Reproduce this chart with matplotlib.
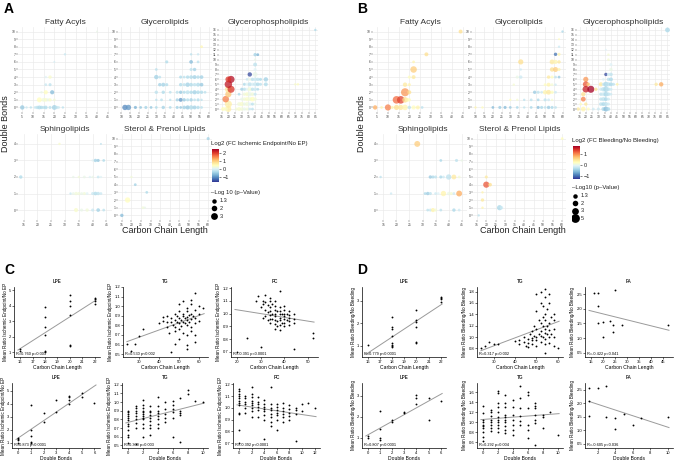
import numpy as np
import matplotlib
matplotlib.use("Agg")
import matplotlib.pyplot as plt
from matplotlib.colors import Normalize
from matplotlib.cm import ScalarMappable

plt.rcParams["font.family"] = ["Liberation Sans", "DejaVu Sans"]

W, H = 676, 463

# ------------------------------------------------------------
# Bubble data: (carbon length, double bonds, log2 FC, -log10 p)
# ------------------------------------------------------------
a_fa = [(5,0,-0.6,1.0),(7,0,-0.2,0.3),(9,0,-0.3,0.3),(11,0,-0.2,0.4),(12,0,-0.3,0.6),
        (13,0,-0.4,0.8),(14,0,-0.4,0.6),(15,0,-0.3,0.5),(16,0,-0.4,0.7),(18,0,-0.3,0.5),
        (20,0,-0.5,1.2),(21,0,-0.3,0.6),(22,0,-0.2,0.4),(24,0,-0.3,0.3),
        (13,1,0.4,1.3),(15,1,0.2,0.8),(16,1,0.3,0.7),(17,1,0.1,0.5),(18,1,0.3,0.6),(20,1,0.2,0.4),
        (16,2,0.4,0.9),(19,2,-0.7,0.9),(14,2,0.1,0.3),(16,3,-0.2,0.4),(18,3,-0.3,0.5),
        (18,4,0.3,0.6),(16,4,0.0,0.3),(20,6,-0.1,0.2),(25,7,-0.2,0.3),(40,10,0.1,0.2)]

a_gl = [(12,0,-1.1,1.5),(14,0,-1.0,1.5),(18,0,-0.8,0.5),(21,0,-0.6,0.4),(24,0,-0.5,0.5),
        (27,0,-0.6,0.4),(30,0,-0.4,0.4),(34,0,-0.5,0.6),(38,0,-0.4,0.4),(42,0,-0.5,0.5),
        (44,0,-0.6,0.4),(46,0,-0.5,0.7),(48,0,-0.6,0.9),(50,0,-0.4,1.0),(52,0,-0.5,0.8),
        (54,0,-0.4,0.6),(56,0,-0.3,0.4),
        (30,1,-0.3,0.3),(33,1,-0.3,0.4),(38,1,-0.3,0.3),(42,1,-0.5,0.5),(44,1,-1.0,0.8),
        (46,1,-0.6,0.6),(48,1,-0.4,0.5),(50,1,-0.5,0.6),(52,1,-0.3,0.4),(54,1,-0.4,0.5),(56,1,-0.3,0.3),
        (30,2,-0.3,0.6),(34,2,-0.4,0.6),(38,2,-0.3,0.4),(42,2,-0.3,0.5),(44,2,-0.6,0.6),
        (46,2,-0.4,0.5),(48,2,-0.3,0.8),(50,2,-0.4,0.6),(52,2,-0.5,0.9),(54,2,-0.4,0.7),
        (56,2,-0.4,0.6),(58,2,-0.3,0.4),
        (32,3,-0.5,0.6),(34,3,-0.5,0.8),(36,3,-0.4,0.5),(44,3,-0.4,0.6),(46,3,-0.3,0.5),
        (48,3,-0.5,1.0),(50,3,-0.4,0.7),(52,3,-0.3,0.6),(54,3,-0.4,0.8),(56,3,-0.6,0.7),
        (30,4,-0.5,1.0),(32,4,-0.3,0.4),(44,4,-0.4,0.5),(46,4,-0.3,0.4),(48,4,-0.4,0.6),
        (50,4,-0.4,0.7),(52,4,-0.5,0.8),(54,4,-0.4,0.6),(56,4,-0.5,0.7),
        (30,5,-0.3,0.4),(50,5,-0.3,0.5),(52,5,-0.5,0.6),
        (36,6,-0.4,0.5),(50,6,-0.7,0.7),(54,6,-0.3,0.4),(50,7,-0.3,0.3),(54,7,-0.2,0.3),
        (56,8,0.5,0.4)]

a_gp = [(20,0,0.6,1.8),(18,0,0.3,0.8),(16,0,0.4,0.8),(20,1,0.6,2.6),(18,2,1.5,2.2),
        (20,3,1.0,2.0),(20,4,0.7,2.4),(22,4,2.0,2.6),(20,5,2.2,2.9),(22,6,2.3,2.6),(20,6,2.0,1.8),
        (36,7,-1.5,1.0),(40,11,-0.5,0.6),(42,11,-0.8,0.4),(40,10,0.1,0.3),(40,9,-0.3,0.8),
        (40,8,0.0,0.5),(40,7,0.1,1.2),
        (34,6,-0.2,0.4),(36,6,0.1,0.5),(38,6,-0.3,0.6),(40,6,-0.2,0.8),(42,6,-0.3,0.6),
        (44,6,-0.4,0.5),(48,6,-0.5,1.0),
        (32,5,-0.4,0.5),(34,5,0.0,0.6),(36,5,-0.3,0.8),(38,5,-0.1,0.6),(40,5,-0.2,0.9),
        (42,5,-0.4,0.7),(44,5,-0.3,0.5),(48,5,-0.4,0.8),(70,5,0.3,0.3),(72,5,0.4,0.3),
        (30,4,-0.5,0.5),(32,4,-0.3,0.6),(34,4,0.0,0.5),(36,4,0.2,0.9),(38,4,-0.3,0.6),
        (40,4,-0.2,0.7),(42,4,-0.4,0.4),
        (28,3,-0.4,0.4),(32,3,0.2,0.6),(34,3,0.3,0.8),(36,3,0.1,0.9),(38,3,0.2,0.7),(40,3,-0.2,0.5),
        (30,2,0.1,0.5),(32,2,0.2,0.7),(34,2,0.3,0.9),(36,2,0.2,0.8),(38,2,0.4,1.1),(40,2,0.2,0.6),
        (28,1,0.2,0.8),(30,1,0.3,1.0),(32,1,0.1,0.6),(34,1,0.2,0.9),(36,1,0.0,0.6),
        (38,1,-0.3,0.5),(40,1,0.1,0.4),
        (26,0,0.2,0.5),(28,0,0.3,0.8),(30,0,0.2,0.7),(32,0,0.1,0.6),(34,0,0.2,0.5),
        (36,0,-0.2,0.4),(38,0,-0.3,0.4),(85,16,-0.4,0.3)]

a_sp = [(28,4,0.3,0.3),(43,4,-0.3,0.2),(40,3,0.0,0.3),(41,3,-0.5,0.6),(42,3,-0.6,0.5),
        (44,3,-0.4,0.4),(14,2,-0.4,0.6),(33,2,0.1,0.3),(35,2,0.2,0.3),(37,2,0.1,0.4),
        (39,2,0.0,0.3),(40,2,0.1,0.3),(42,2,-0.2,0.4),(43,2,0.0,0.3),
        (32,1,-0.2,0.3),(33,1,0.1,0.4),(34,1,0.2,0.6),(35,1,0.2,0.5),(36,1,0.1,0.4),
        (37,1,0.2,0.5),(38,1,0.0,0.4),(40,1,-0.2,0.5),(41,1,-0.4,0.7),(42,1,-0.3,0.6),(43,1,-0.2,0.4),
        (34,0,0.3,0.9),(36,0,0.1,0.5),(38,0,0.2,0.6),(40,0,-0.2,0.5),(42,0,-0.5,0.7),(44,0,-0.3,0.4)]

a_st = [(60,10,-0.5,0.5),(20,5,0.2,0.3),(22,4,-0.5,0.4),(28,3,-0.4,0.4),(17,3,0.0,0.2),
        (18,2,0.4,1.5),(26,1,0.2,0.4),(27,1,0.1,0.3),(15,0,-0.7,0.6)]

b_fa = [(44,10,0.5,0.8),(28,7,0.5,0.8),(22,6,0.3,0.4),(22,5,0.6,2.2),(22,4,0.4,0.8),
        (20,4,0.2,0.5),(18,3,0.4,1.0),(20,3,0.3,0.5),(18,2,0.9,3.4),(20,2,0.5,0.8),
        (14,1,1.1,3.0),(16,1,1.3,3.0),(18,1,0.5,1.6),(19,1,0.3,0.8),(20,1,0.2,0.6),
        (4,0,0.8,1.0),(10,0,1.0,2.0),(7,0,0.3,0.4),(12,0,0.3,0.5),(14,0,0.5,1.4),(16,0,0.4,1.4),
        (18,0,0.3,1.6),(20,0,-0.3,0.6),(22,0,0.2,0.9),(24,0,0.3,0.8),(26,0,-0.3,0.4)]

b_gl = [(60,10,-0.4,0.3),(58,9,0.2,0.2),(58,8,-0.2,0.3),(56,7,-1.0,0.6),(58,7,0.3,0.5),
        (36,6,0.5,1.4),(54,6,0.4,1.2),(56,6,0.3,0.9),(58,6,0.4,0.6),
        (36,5,-0.2,0.3),(54,5,0.5,1.0),(56,5,0.6,1.3),(58,5,0.3,0.5),
        (34,4,0.0,0.5),(36,4,-0.2,0.6),(52,4,0.4,0.6),(54,4,0.2,0.5),(56,4,-0.3,0.4),(58,4,-0.5,0.4),
        (32,3,0.1,0.3),(50,3,0.2,0.4),(52,3,0.3,0.8),(54,3,0.1,0.4),(56,3,-0.2,0.3),
        (44,2,-0.5,0.6),(46,2,-0.3,0.5),(48,2,-0.2,0.4),(50,2,0.3,1.0),(52,2,0.4,1.2),
        (54,2,0.2,0.6),(56,2,-0.2,0.4),
        (30,1,0.2,0.3),(34,1,0.1,0.3),(38,1,-0.3,0.3),(42,1,-0.3,0.4),(46,1,-0.4,0.4),
        (50,1,-0.3,0.5),(52,1,-0.2,0.4),(54,1,0.1,0.3),
        (10,0,0.3,0.3),(14,0,0.2,0.3),(20,0,-0.6,0.4),(24,0,-0.5,0.5),(27,0,-0.6,0.5),
        (30,0,-0.5,0.4),(34,0,-0.4,0.4),(38,0,-0.3,0.3),(42,0,-0.4,0.4),(46,0,-0.6,0.5),
        (48,0,-0.4,0.5),(50,0,-0.3,0.4),(52,0,-0.5,0.6),(54,0,-0.4,0.5),(56,0,-0.3,0.4)]

b_gp = [(85,16,-0.4,1.2),(36,12,-0.1,0.2),(38,11,0.1,0.3),(38,10,0.1,0.3),(40,9,-0.1,0.5),
        (40,8,0.0,0.6),(36,7,-1.2,0.6),(40,7,-0.3,0.7),(38,7,-0.2,0.5),
        (20,6,0.9,1.4),(34,6,-0.1,0.4),(38,6,-0.3,0.6),(40,6,-0.4,0.8),
        (20,5,1.2,1.8),(22,5,0.6,0.7),(32,5,0.4,0.9),(34,5,-0.2,0.6),(36,5,-0.4,1.4),
        (38,5,-0.3,0.9),(40,5,-0.4,0.8),(42,5,-0.3,0.5),(45,5,0.3,0.4),(76,5,0.4,0.6),(80,5,0.8,1.0),
        (20,4,1.5,2.2),(24,4,1.8,2.6),(28,4,0.5,0.6),(32,4,-0.2,0.6),(34,4,-0.3,1.0),
        (36,4,-0.4,1.5),(38,4,-0.3,0.7),(40,4,-0.2,0.5),
        (18,3,0.5,1.0),(32,3,-0.3,0.6),(34,3,-0.2,0.8),(36,3,-0.4,1.2),(38,3,-0.3,0.7),(40,3,-0.2,0.4),
        (18,2,1.0,1.2),(32,2,-0.3,0.6),(34,2,-0.3,0.9),(36,2,-0.4,0.8),(38,2,-0.2,0.5),
        (16,1,0.2,0.4),(20,1,0.4,0.6),(32,1,-0.3,0.7),(34,1,-0.4,0.8),(36,1,-0.3,0.9),(38,1,-0.2,0.5),
        (14,0,0.4,0.6),(18,0,0.3,1.2),(22,0,0.2,0.5),(26,0,-0.2,0.4),(30,0,-0.2,0.5),
        (34,0,-0.4,0.8),(36,0,-0.6,1.3),(38,0,-0.4,0.7)]

b_sp = [(28,4,0.6,1.8),(37,3,-0.4,0.4),(43,3,-0.3,0.5),(45,3,0.0,0.3),
        (14,2,-0.3,0.3),(33,2,-0.5,0.6),(34,2,-0.4,0.5),(35,2,-0.3,0.5),(37,2,-0.4,0.5),
        (38,2,-0.2,0.4),(40,2,-0.3,1.5),(42,2,0.4,1.2),(44,2,0.1,0.4),
        (18,1,-0.2,0.3),(31,1,-0.4,0.4),(32,1,-0.5,0.6),(33,1,-0.3,0.5),(35,1,-0.2,0.4),
        (36,1,-0.1,0.4),(38,1,0.3,1.5),(40,1,0.0,0.6),(41,1,0.1,0.5),(42,1,-0.2,0.4),(44,1,0.8,1.8),
        (32,0,-0.3,0.4),(33,0,-0.2,0.5),(34,0,0.3,0.9),(35,0,0.1,0.5),(37,0,-0.3,0.4),
        (42,0,-0.4,0.6),(44,0,-0.2,0.4)]

b_st = [(60,10,0.2,0.4),(20,5,0.4,0.5),(20,4,1.2,2.0),(22,4,0.5,0.7),(18,3,0.3,0.3),
        (18,2,0.4,0.6),(18,1,0.3,0.3),(27,1,-0.4,1.4),(28,1,-0.2,0.6),(16,0,-0.3,0.3)]

a_cbar_ticks = [2, 1, 0, -1]
b_cbar_ticks = [1, 0, -1]
a_size_keys = [1.3, 2, 3]
b_size_keys = [1.3, 2, 3, 5]

# ------------------------------------------------------------
# Correlation data
# ------------------------------------------------------------
c_lpe_cl_x = [16, 16, 18, 18, 18, 18, 18, 18, 20, 20, 20, 20, 20, 20, 22, 22, 22, 22]
c_lpe_cl_y = [1.1, 1.2, 1.0, 1.1, 2.1, 2.6, 3.3, 3.9, 1.4, 1.5, 3.4, 4.0, 4.3, 4.7, 4.1, 4.3, 4.4, 4.5]

c_tg_cl_x = [24, 26, 28, 30, 32, 40, 42, 42, 44, 44, 44, 45, 46, 46, 46, 47, 48, 48, 48, 48, 48,
             49, 49, 50, 50, 50, 50, 50, 50, 51, 51, 52, 52, 52, 52, 52, 53, 53, 54, 54, 54, 54,
             54, 54, 54, 54, 55, 55, 56, 56, 56, 56, 56, 56, 57, 58, 58, 58, 58, 58, 58, 60, 60, 60, 62]
c_tg_cl_y = [0.61, 0.53, 0.61, 0.69, 0.76, 0.82, 0.85, 0.89, 0.83, 0.78, 0.90, 0.72, 0.88, 0.84,
             0.52, 0.80, 0.86, 0.78, 0.74, 0.92, 0.61, 0.90, 0.83, 0.82, 0.95, 0.88, 0.76, 0.66,
             1.02, 0.86, 0.79, 0.92, 0.84, 0.90, 0.72, 1.05, 0.88, 0.82, 0.95, 0.89, 0.86, 0.80,
             0.70, 0.60, 0.55, 0.98, 0.91, 0.84, 0.87, 0.92, 1.06, 1.02, 0.78, 0.74, 0.90, 0.96,
             0.88, 0.82, 0.70, 1.14, 0.63, 0.92, 1.00, 0.85, 0.98]

c_pc_cl_x = [20, 24, 28, 29, 30, 30, 31, 31, 31, 32, 32, 32, 32, 33, 33, 33, 34, 34, 34, 34, 34, 34,
             34, 35, 35, 35, 36, 36, 36, 36, 36, 36, 36, 36, 37, 37, 37, 38, 38, 38, 38, 38, 38, 38,
             38, 39, 39, 40, 40, 40, 40, 40, 40, 40, 41, 41, 42, 42, 42, 42, 42, 44, 44, 44, 44, 52, 52]
c_pc_cl_y = [0.70, 0.81, 1.10, 1.14, 1.05, 0.74, 1.10, 1.08, 0.97, 1.15, 1.09, 1.03, 0.98, 1.07,
             1.01, 0.95, 1.12, 1.10, 1.05, 1.02, 0.99, 0.96, 0.93, 1.08, 1.00, 0.96, 1.10, 1.06,
             1.03, 1.00, 0.98, 0.95, 0.92, 0.88, 1.02, 0.94, 0.90, 1.18, 1.05, 1.02, 1.00, 0.97,
             0.95, 0.91, 0.87, 1.00, 0.93, 1.06, 1.03, 1.00, 0.98, 0.96, 0.93, 0.90, 1.00, 0.95,
             1.02, 0.99, 0.97, 0.94, 0.91, 1.00, 0.96, 0.93, 0.72, 0.85, 0.81]

c_lpe_db_x = [0, 0, 0, 0, 1, 1, 1, 1, 1, 2, 2, 3, 3, 4, 4, 4, 4, 5, 5, 6]
c_lpe_db_y = [1.0, 1.2, 1.3, 1.4, 1.0, 1.05, 1.5, 2.0, 3.9, 2.6, 3.3, 3.4, 4.3, 4.0, 4.3, 4.5, 4.6,
              4.5, 4.8, 4.1]

c_tg_db_x = ([0] * 12 + [1] * 9 + [2] * 12 + [3] * 9 + [4] * 8 + [5] * 5 + [6] * 6 + [7] * 5
             + [8] * 2 + [9, 10])
c_tg_db_y = [0.53, 0.60, 0.62, 0.68, 0.72, 0.75, 0.79, 0.82, 0.84, 0.86, 0.88, 0.90,
             0.52, 0.70, 0.76, 0.80, 0.84, 0.87, 0.90, 0.93, 0.96,
             0.60, 0.70, 0.75, 0.80, 0.82, 0.84, 0.86, 0.88, 0.90, 0.93, 0.97, 1.02,
             0.62, 0.70, 0.74, 0.78, 0.82, 0.85, 0.88, 0.90, 0.95,
             0.70, 0.75, 0.80, 0.84, 0.87, 0.90, 0.95, 1.06,
             0.77, 0.82, 0.86, 0.92, 1.00,
             0.60, 0.82, 0.88, 0.92, 0.97, 1.01,
             0.54, 0.85, 0.87, 0.90, 1.05,
             1.09, 1.14, 1.01, 1.00]

c_pc_db_x = ([0] * 12 + [1] * 6 + [2] * 9 + [3] * 6 + [4] * 8 + [5] * 8 + [6] * 7 + [7] * 6
             + [8] * 5 + [9] * 4 + [10] * 2 + [11, 12])
c_pc_db_y = [0.70, 0.81, 0.95, 0.96, 1.02, 1.04, 1.06, 1.08, 1.10, 1.12, 1.14, 1.16,
             0.96, 1.00, 1.03, 1.05, 1.08, 1.10,
             0.92, 0.97, 1.00, 1.02, 1.04, 1.06, 1.09, 1.12, 1.18,
             0.92, 0.98, 1.01, 1.03, 1.05, 1.09,
             0.74, 0.90, 0.94, 0.97, 0.99, 1.01, 1.03, 1.07,
             0.85, 0.88, 0.92, 0.95, 0.98, 1.00, 1.03, 1.18,
             0.81, 0.90, 0.94, 0.96, 0.98, 1.01, 1.03,
             0.88, 0.92, 0.95, 0.97, 1.00, 1.04,
             0.90, 0.93, 0.96, 0.99, 1.02,
             0.72, 0.95, 0.98, 1.00,
             0.97, 1.03, 1.04, 1.00]

d_lpe_cl_x = [16, 18, 18, 18, 18, 18, 18, 18, 18, 20, 20, 20, 20, 20, 20, 22, 22, 22, 22]
d_lpe_cl_y = [1.05, 1.0, 0.95, 1.05, 1.1, 1.45, 1.75, 1.85, 2.25, 1.1, 1.15, 1.85, 2.05, 2.15,
              2.6, 2.95, 3.05, 3.1, 3.15]

d_tg_cl_x = [24, 26, 28, 30, 32, 40, 42, 42, 44, 44, 45, 46, 46, 46, 47, 48, 48, 48, 48, 49, 49,
             50, 50, 50, 50, 50, 50, 51, 51, 52, 52, 52, 52, 52, 52, 53, 53, 53, 53, 54, 54, 54,
             54, 54, 54, 54, 54, 54, 55, 55, 55, 56, 56, 56, 56, 56, 56, 57, 57, 58, 58, 58, 58, 58, 60]
d_tg_cl_y = [0.80, 0.85, 0.92, 0.88, 0.88, 0.93, 0.95, 0.87, 1.00, 0.92, 0.85, 0.97, 0.90, 0.82,
             1.05, 1.10, 0.98, 0.94, 0.88, 1.20, 1.02, 1.75, 1.45, 1.15, 1.00, 0.95, 0.85, 1.30,
             1.05, 1.80, 1.60, 1.25, 1.10, 1.02, 0.92, 1.55, 1.35, 1.20, 1.00, 1.85, 1.70, 1.40,
             1.30, 1.15, 1.08, 0.97, 0.88, 0.72, 1.50, 1.20, 1.05, 1.75, 1.60, 1.25, 1.12, 1.00,
             0.90, 1.35, 1.05, 1.40, 1.30, 1.15, 1.00, 0.85, 0.80]

d_fa_cl_x = [16, 18, 18, 18, 20, 20, 23, 24, 24, 25, 28, 47]
d_fa_cl_y = [2.55, 2.55, 2.1, 1.5, 1.05, 1.55, 1.6, 1.45, 1.2, 2.65, 1.45, 1.45]

d_lpe_db_x = [0, 0, 1, 1, 1, 1, 2, 2, 3, 3, 4, 4, 4, 5, 5, 6]
d_lpe_db_y = [1.0, 1.05, 0.9, 1.0, 1.4, 2.25, 1.75, 1.85, 2.15, 2.2, 2.6, 2.9, 3.05, 1.85, 2.9, 2.75]

d_tg_db_x = ([0] * 10 + [1] * 8 + [2] * 11 + [3] * 10 + [4] * 7 + [5] * 6 + [6] * 6 + [7] * 7
             + [8] * 3 + [9, 10])
d_tg_db_y = [0.62, 0.70, 0.80, 0.88, 0.92, 0.95, 1.00, 1.05, 1.18, 1.32,
             0.82, 0.88, 0.95, 1.00, 1.05, 1.12, 1.20, 1.25,
             0.80, 0.88, 0.95, 1.00, 1.05, 1.10, 1.20, 1.30, 1.38, 1.58, 1.62,
             0.78, 0.85, 0.92, 1.00, 1.05, 1.10, 1.15, 1.30, 1.38, 1.55,
             0.75, 0.85, 0.95, 1.05, 1.15, 1.30, 1.45,
             0.95, 1.02, 1.12, 1.28, 1.48, 1.72,
             0.68, 0.85, 0.95, 1.28, 1.55, 1.60,
             0.55, 0.98, 1.05, 1.15, 1.28, 1.32, 1.38,
             0.88, 1.10, 1.15, 1.20, 0.75]

d_fa_db_x = [1, 1, 1, 2, 3, 3, 4, 4, 5, 6, 7, 10]
d_fa_db_y = [2.55, 2.1, 1.55, 2.55, 2.65, 1.5, 1.45, 1.05, 1.6, 1.2, 1.45, 1.5]

# ------------------------------------------------------------
fig = plt.figure(figsize=(W / 100, H / 100), dpi=100)
cmap = plt.get_cmap("RdYlBu_r")
SIZE_SCALE = 10


def rect(x0, y0, x1, y1):
    return [x0 / W, 1 - y1 / H, (x1 - x0) / W, (y1 - y0) / H]


def px(x, y):
    return x / W, 1 - y / H


def bubble_facet(box, data, title, xticks, ymax, norm):
    ax = fig.add_axes(rect(*box))
    xs = [d[0] for d in data]
    ys = [d[1] for d in data]
    fc = [d[2] for d in data]
    sz = [SIZE_SCALE * d[3] for d in data]
    ax.scatter(xs, ys, s=sz, c=fc, cmap=cmap, norm=norm, alpha=0.75, linewidths=0, zorder=3)
    ax.set_xticks(xticks)
    ax.set_yticks(range(0, ymax + 1))
    ax.set_xlim(xticks[0] - 2, xticks[-1] + 2)
    ax.set_ylim(-0.6, ymax + 0.6)
    for s in ax.spines.values():
        s.set_visible(False)
    ax.grid(True, color="#ebebeb", lw=0.5, zorder=0)
    ax.set_axisbelow(True)
    ax.tick_params(labelsize=2.4, length=1.2, width=0.3, pad=0.6, colors="#444444")
    ax.set_title(title, fontsize=6, color="#333333", pad=2.5)
    return ax


def bubble_legend(x, y, title, ticks, vmin, vmax, size_title, size_keys, size_y):
    fig.text(*px(x, y), title, fontsize=4.3, color="#222222", va="bottom")
    cax = fig.add_axes(rect(x + 1, y + 3, x + 8, y + 36))
    sm = ScalarMappable(norm=Normalize(vmin, vmax), cmap=cmap)
    cb = fig.colorbar(sm, cax=cax, ticks=ticks)
    cb.outline.set_visible(False)
    cb.ax.tick_params(labelsize=4, length=1.5, width=0.4, pad=1, colors="#222222")
    fig.text(*px(x, size_y), size_title, fontsize=4.3, color="#222222", va="bottom")
    lax = fig.add_axes(rect(x, size_y + 2, x + 30, size_y + 4 + 7 * len(size_keys)))
    lax.set_xlim(0, 10)
    lax.set_ylim(len(size_keys) - 0.5, -0.5)
    lax.axis("off")
    for i, v in enumerate(size_keys):
        lax.scatter([1], [i], s=0.8 * SIZE_SCALE * v, c="black", linewidths=0)
        lax.text(2.8, i, str(v), fontsize=4, va="center", color="#222222")


def corr_panel(box, x, y, title, xlabel, ylabel, rtext, xticks, yticks, ylim):
    ax = fig.add_axes(rect(*box))
    ax.scatter(x, y, s=1.8, c="black", linewidths=0, zorder=3)
    k, b = np.polyfit(x, y, 1)
    span = xticks[-1] - xticks[0]
    x0 = min(xticks[0] - 0.03 * span, min(x))
    x1 = max(x) + 0.02 * span
    ax.plot([x0, x1], [k * x0 + b, k * x1 + b], color="#9a9a9a", lw=0.7, zorder=2)
    ax.set_xticks(xticks)
    ax.set_yticks(yticks)
    ax.set_ylim(*ylim)
    for s in ["top", "right"]:
        ax.spines[s].set_visible(False)
    for s in ["left", "bottom"]:
        ax.spines[s].set_linewidth(0.5)
    ax.tick_params(labelsize=3, length=1.2, width=0.4, pad=0.8)
    ax.set_title(title, fontsize=3.3, fontweight="bold", color="#333333", pad=3)
    ax.set_xlabel(xlabel, fontsize=3.6, labelpad=0.8)
    ax.set_ylabel(ylabel, fontsize=3.3, labelpad=1)
    ax.text(0.02, 0.03, rtext, transform=ax.transAxes, fontsize=2.8)
    return ax


# ---------------- Panel A ----------------
na = Normalize(-1.66, 2.44)
bubble_facet((18, 27, 112, 112), a_fa, "Fatty Acyls", list(range(5, 50, 5)), 10, na)
bubble_facet((118, 27, 212, 112), a_gl, "Glycerolipids", list(range(10, 65, 5)), 10, na)
bubble_facet((219, 27, 318, 112), a_gp, "Glycerophospholipids", list(range(15, 90, 5)), 16, na)
bubble_facet((18, 134, 112, 220), a_sp, "Sphingolipids", list(range(15, 50, 5)), 4, na)
bubble_facet((118, 134, 212, 220), a_st, "Sterol & Prenol Lipids", list(range(15, 65, 5)), 10, na)
bubble_legend(211, 146, "Log2 (FC Ischemic Endpoint/No EP)", a_cbar_ticks, -1.66, 2.44,
              "\u2013Log 10 (p\u2013Value)", a_size_keys, 195)
fig.text(*px(165, 230), "Carbon Chain Length", fontsize=6.5, ha="center", va="center", color="#222222")
fig.text(*px(6, 124), "Double Bonds", fontsize=6.5, rotation=90, ha="center", va="center", color="#222222")
fig.text(*px(4, 9), "A", fontsize=10, fontweight="bold", va="center")

# ---------------- Panel B ----------------
nb = Normalize(-1.3, 1.7)
bubble_facet((373, 27, 467, 112), b_fa, "Fatty Acyls", list(range(5, 50, 5)), 10, nb)
bubble_facet((472, 27, 566, 112), b_gl, "Glycerolipids", list(range(10, 65, 5)), 10, nb)
bubble_facet((577, 27, 670, 112), b_gp, "Glycerophospholipids", list(range(15, 90, 5)), 16, nb)
bubble_facet((378, 134, 467, 220), b_sp, "Sphingolipids", list(range(15, 50, 5)), 4, nb)
bubble_facet((473, 134, 566, 220), b_st, "Sterol & Prenol Lipids", list(range(15, 65, 5)), 10, nb)
bubble_legend(572, 143, "Log2 (FC Bleeding/No Bleeding)", b_cbar_ticks, -1.3, 1.7,
              "\u2013Log10 (p\u2013Value)", b_size_keys, 190)
fig.text(*px(523, 230), "Carbon Chain Length", fontsize=6.5, ha="center", va="center", color="#222222")
fig.text(*px(361, 124), "Double Bonds", fontsize=6.5, rotation=90, ha="center", va="center", color="#222222")
fig.text(*px(357, 9), "B", fontsize=10, fontweight="bold", va="center")

# ---------------- Panel C ----------------
ylab_c = "Mean Ratio Ischemic Endpoint/No EP"
corr_panel((14, 287, 100, 357), c_lpe_cl_x, c_lpe_cl_y, "LPE", "Carbon Chain Length", ylab_c,
           "R=0.760 p=0.001", list(range(16, 23)), [1, 2, 3, 4, 5], (0.7, 5.2))
corr_panel((123, 287, 208, 357), c_tg_cl_x, c_tg_cl_y, "TG", "Carbon Chain Length", ylab_c,
           "R=0.530 p<0.002", [30, 40, 50, 60], [0.5, 0.6, 0.7, 0.8, 0.9, 1.0, 1.1, 1.2], (0.47, 1.2))
corr_panel((231, 287, 318, 357), c_pc_cl_x, c_pc_cl_y, "PC", "Carbon Chain Length", ylab_c,
           "R=-0.391 p<0.0001", [20, 30, 40, 50], [0.7, 0.8, 0.9, 1.0, 1.1, 1.2], (0.66, 1.21))
corr_panel((12, 383, 100, 448), c_lpe_db_x, c_lpe_db_y, "LPE", "Double Bonds", ylab_c,
           "R=0.873 p<0.0001", list(range(0, 7)), [1, 2, 3, 4, 5], (0.6, 5.6))
corr_panel((122, 383, 208, 448), c_tg_db_x, c_tg_db_y, "TG", "Double Bonds", ylab_c,
           "R=0.300 p=0.003", [0, 2, 4, 6, 8, 10], [0.5, 0.6, 0.7, 0.8, 0.9, 1.0, 1.1, 1.2], (0.47, 1.22))
corr_panel((233, 383, 320, 448), c_pc_db_x, c_pc_db_y, "PC", "Double Bonds", ylab_c,
           "R=-0.392 p<0.0001", [0, 2, 4, 6, 8, 10, 12], [0.7, 0.8, 0.9, 1.0, 1.1, 1.2], (0.66, 1.21))
fig.text(*px(4, 270), "C", fontsize=10, fontweight="bold", va="center")

# ---------------- Panel D ----------------
ylab_d = "Mean Ratio Bleeding/No Bleeding"
corr_panel((362, 287, 446, 357), d_lpe_cl_x, d_lpe_cl_y, "LPE", "Carbon Chain Length", ylab_d,
           "R=0.779 p<0.0001", list(range(16, 23)), [1, 2, 3], (0.5, 3.6))
corr_panel((477, 287, 563, 357), d_tg_cl_x, d_tg_cl_y, "TG", "Carbon Chain Length", ylab_d,
           "R=0.317 p=0.002", [30, 40, 50, 60], [0.8, 1.0, 1.2, 1.4, 1.6, 1.8], (0.65, 1.88))
corr_panel((585, 287, 673, 357), d_fa_cl_x, d_fa_cl_y, "FA", "Carbon Chain Length", ylab_d,
           "R=-0.422 p=0.041", [15, 20, 25, 30, 35, 40, 45], [0.5, 1.0, 1.5, 2.0, 2.5], (0.35, 2.75))
corr_panel((362, 383, 446, 448), d_lpe_db_x, d_lpe_db_y, "LPE", "Double Bonds", ylab_d,
           "R=0.807 p<0.0001", list(range(0, 7)), [1, 2, 3], (0.5, 3.6))
corr_panel((477, 383, 563, 448), d_tg_db_x, d_tg_db_y, "TG", "Double Bonds", ylab_d,
           "R=0.292 p=0.004", [0, 2, 4, 6, 8, 10], [0.6, 0.8, 1.0, 1.2, 1.4, 1.6], (0.48, 1.78))
corr_panel((585, 383, 673, 448), d_fa_db_x, d_fa_db_y, "FA", "Double Bonds", ylab_d,
           "R=-0.605 p=0.036", [2, 4, 6, 8, 10], [0.5, 1.0, 1.5, 2.0, 2.5], (0.35, 2.75))
fig.text(*px(357, 270), "D", fontsize=10, fontweight="bold", va="center")

fig.savefig("out.png", dpi=100)
